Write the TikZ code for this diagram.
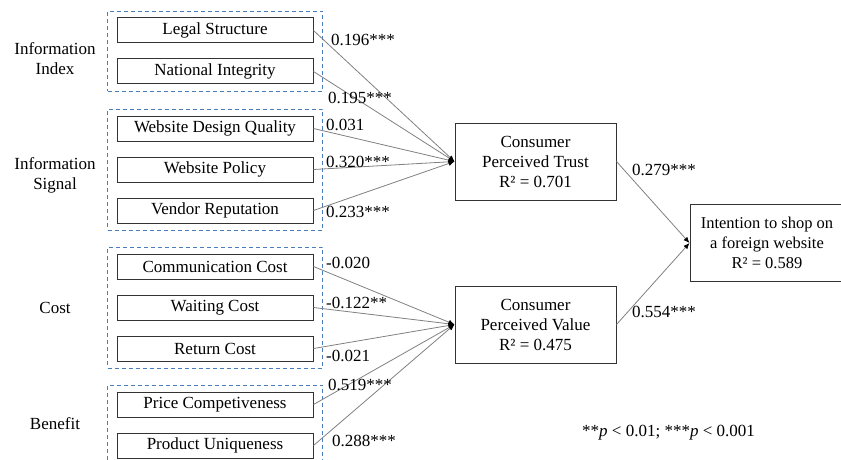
\documentclass[tikz,border=0pt]{standalone}
\usepackage{fontspec}
\setmainfont{Liberation Serif}
\usetikzlibrary{arrows.meta, positioning, fit}
\definecolor{grpblue}{HTML}{4A7EBB}

\begin{document}
\begin{tikzpicture}[x=1pt, y=-1pt,
    font=\fontsize{17}{20}\selectfont,
    var/.style={draw=black!80, line width=1pt, minimum width=196pt, minimum height=25pt, inner sep=0pt},
    lat/.style={draw=black!80, line width=1pt, minimum width=161pt, minimum height=77pt, align=center, inner sep=0pt},
    grp/.style={draw=grpblue, dash pattern=on 4pt off 3pt, line width=0.9pt, inner xsep=9pt, inner ysep=6.5pt},
    link/.style={draw=gray, line width=0.8pt, -{Latex[length=6pt, width=5pt, color=black]}},
    coef/.style={anchor=west, inner sep=0pt}]
    \useasboundingbox (0,0) rectangle (841,460);

    %--- observed variables (left column) ---
    \node[var] (LS)  at (215,30.5)              {Legal Structure};
    \node[var] (NI)  [below=15pt of LS]         {National Integrity};
    \node[var] (WDQ) at (215,128.5)             {Website Design Quality};
    \node[var] (WP)  [below=15pt of WDQ]        {Website Policy};
    \node[var] (VR)  [below=15pt of WP]         {Vendor Reputation};
    \node[var] (CC)  at (215,266.5)             {Communication Cost};
    \node[var] (WC)  [below=15pt of CC]         {Waiting Cost};
    \node[var] (RC)  [below=15pt of WC]         {Return Cost};
    \node[var] (PC)  at (215,404.5)             {Price Competiveness};
    \node[var] (PU)  [below=15pt of PC]         {Product Uniqueness};

    %--- dashed groups and their names ---
    \node[grp, fit=(LS)(NI)]       (GIX) {};
    \node[grp, fit=(WDQ)(WP)(VR)]  (GIS) {};
    \node[grp, fit=(CC)(WC)(RC)]   (GCO) {};
    \node[grp, fit=(PC)(PU)]       (GBE) {};
    \node[align=center] (NIX) at (55,59)  {Information\\Index};
    \node[align=center] (NIS) at (55,175) {Information\\Signal};
    \node (NCO) at (55,308) {Cost};
    \node (NBE) at (55,424) {Benefit};

    %--- latent constructs ---
    \node[lat] (CPT) at (535.5,161.5) {Consumer\\Perceived Trust\\R² = 0.701};
    \node[lat] (CPV) at (535.5,324.5) {Consumer\\Perceived Value\\R² = 0.475};
    \node[lat, minimum width=154pt, font=\fontsize{16.5}{20}\selectfont] (INT) at (767,243)
        {Intention to shop on\\a foreign website\\R² = 0.589};

    %--- paths ---
    \foreach \v in {LS,NI,WDQ,WP,VR}
        \draw[link] (\v.east) -- (CPT.west);
    \foreach \v in {CC,WC,RC,PC,PU}
        \draw[link] (\v.east) -- (CPV.west);
    \draw[link] (CPT.east) -- (INT.west);
    \draw[link] (CPV.east) -- (INT.west);

    %--- path coefficients ---
    \node[coef] (bLS)  at (331,40)  {0.196***};
    \node[coef] (bNI)  at (328,98)  {0.195***};
    \node[coef] (bWDQ) at (326,125) {0.031};
    \node[coef] (bWP)  at (326,162) {0.320***};
    \node[coef] (bVR)  at (326,212) {0.233***};
    \node[coef] (bCC)  at (326,263) {-0.020};
    \node[coef] (bWC)  at (326,303) {-0.122**};
    \node[coef] (bRC)  at (326,356) {-0.021};
    \node[coef] (bPC)  at (328,385) {0.519***};
    \node[coef] (bPU)  at (332,441) {0.288***};
    \node[coef] (bCPT) at (632,170) {0.279***};
    \node[coef] (bCPV) at (632,312) {0.554***};

    % significance note
    \node[coef] (note) at (582,433) {**\textit{p} < 0.01; ***\textit{p} < 0.001};
\end{tikzpicture}
\end{document}
